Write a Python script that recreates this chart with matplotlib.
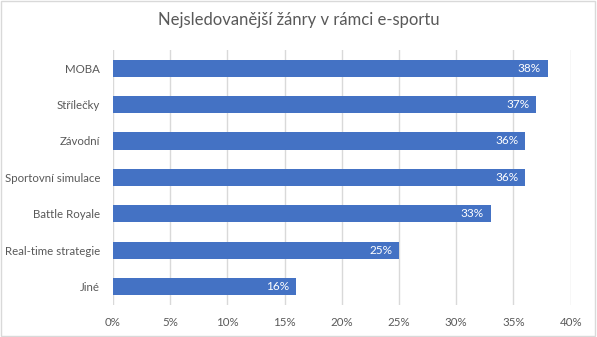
import matplotlib
matplotlib.use("Agg")
import matplotlib.pyplot as plt
from matplotlib.ticker import FuncFormatter
from matplotlib.patches import Rectangle

# data
zanry = ["MOBA", "Střílečky", "Závodní", "Sportovní simulace",
         "Battle Royale", "Real-time strategie", "Jiné"]
podil = [38, 37, 36, 36, 33, 25, 16]

plt.rcParams['font.family'] = ['Lato', 'DejaVu Sans']
seda = '#595959'

fig = plt.figure(figsize=(5.97, 3.37), dpi=100)
ax = fig.add_axes([0.189, 0.095, 0.767, 0.757])

pos = list(range(len(zanry)))[::-1]
bars = ax.barh(pos, podil, height=0.47, color='#4472C4', zorder=3)

# popisky uvnitř sloupců
for b, v in zip(bars, podil):
    ax.text(b.get_width() - 0.6, b.get_y() + b.get_height() / 2, f"{v}%",
            ha='right', va='center', color='white', fontsize=8.5, zorder=4)

ax.set_xlim(0, 40)
ax.set_ylim(-0.5, len(zanry) - 0.5)
ax.set_xticks(range(0, 41, 5))
ax.xaxis.set_major_formatter(FuncFormatter(lambda x, p: f"{int(x)}%"))
ax.set_yticks(pos)
ax.set_yticklabels(zanry)

ax.grid(axis='x', color='#d9d9d9', linewidth=1, zorder=0)
for s in ax.spines.values():
    s.set_visible(False)
ax.tick_params(length=0, labelsize=8.3, labelcolor=seda)
ax.tick_params(axis='x', pad=9)
ax.tick_params(axis='y', pad=9)

fig.suptitle("Nejsledovanější žánry v rámci e-sportu", y=0.965,
             fontsize=12, color=seda)

# rámeček grafu
fig.patches.append(Rectangle((0.002, 0.003), 0.995, 0.993, transform=fig.transFigure,
                             fill=False, edgecolor='#d9d9d9', linewidth=1))

fig.savefig("out.png", dpi=100)
